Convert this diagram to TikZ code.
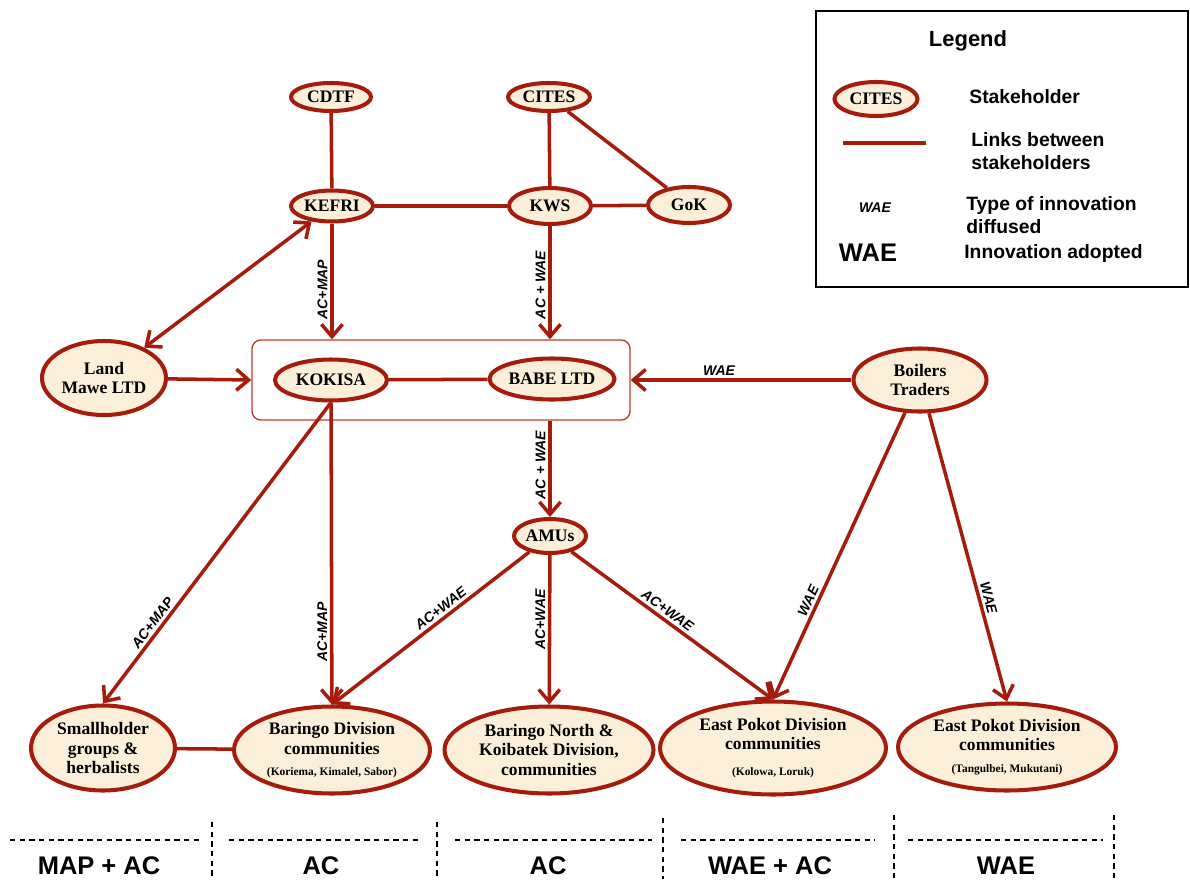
\documentclass[tikz,border=0pt]{standalone}
\usepackage{fontspec}
\setmainfont{Liberation Serif}
\setsansfont{Liberation Sans}
\usetikzlibrary{shapes.geometric,arrows.meta}

\definecolor{linkred}{RGB}{166,28,12}
\definecolor{framered}{RGB}{190,60,45}
\definecolor{actorfill}{RGB}{252,239,218}

\tikzset{
  actor/.style={ellipse, draw=linkred, fill=actorfill, line width=2.3pt, inner sep=0pt,
    align=center, font=\bfseries\fontsize{10}{11}\selectfont},
  dims/.style 2 args={minimum width=#1*0.02cm, minimum height=#2*0.02cm},
  link/.style={draw=linkred, line width=2pt},
  flow/.style={link, -{Straight Barb[length=7pt,width=12pt]}},
  flowboth/.style={link, {Straight Barb[length=7pt,width=12pt]}-{Straight Barb[length=7pt,width=12pt]}},
  innov/.style={font=\sffamily\bfseries\itshape\fontsize{8}{9}\selectfont, inner sep=1.5pt},
  legtext/.style={font=\sffamily\bfseries\fontsize{11}{13.5}\selectfont, align=left, anchor=west, inner sep=0pt},
  bigsans/.style={font=\sffamily\bfseries\fontsize{14.5}{16}\selectfont, inner sep=0pt},
  band/.style={line width=0.6pt, dash pattern=on 3pt off 2.5pt},
}
\newcommand{\subline}[1]{\\[1pt]{\fontsize{6.5}{8}\selectfont #1}}

\begin{document}
\begin{tikzpicture}[x=0.02cm, y=-0.02cm]
\useasboundingbox (0,0) rectangle (1190,879);

%top stakeholders
\node[actor, dims={80}{28}] (cdtf) at (331,97) {CDTF};
\node[actor, dims={82}{28}] (cites) at (549,97) {CITES};
\node[actor, dims={82}{31}] (kefri) at (332,206) {KEFRI};
\node[actor, dims={82}{36}] (kws) at (550,206) {KWS};
\node[actor, dims={82}{36}] (gok) at (689,205) {GoK};

%processors
\node[draw=framered, line width=0.8pt, rounded corners=5pt, dims={378}{80}] (frame) at (441,380) {};
\node[actor, dims={112}{41}] (kokisa) at (331,380) {KOKISA};
\node[actor, dims={125}{41}] (babe) at (552,379) {BABE LTD};
\node[actor, dims={124}{74}] (land) at (104,378) {Land\\Mawe LTD};
\node[actor, dims={133}{63}] (boilers) at (920,380) {Boilers\\Traders};
\node[actor, dims={72}{34}] (amus) at (550,536) {AMUs};

%communities
\node[actor, dims={144}{85}] (small) at (103,748) {Smallholder\\groups \&\\herbalists};
\node[actor, dims={196}{87}] (bdiv) at (332,750) {Baringo Division\\communities\subline{(Koriema, Kimalel, Sabor)}};
\node[actor, dims={209}{87}] (bnorth) at (549,750) {Baringo North \&\\Koibatek Division,\\communities};
\node[actor, dims={226}{93}] (kolowa) at (773,748) {East Pokot Division\\communities\\[4pt]{\fontsize{6.5}{8}\selectfont (Kolowa, Loruk)}};
\node[actor, dims={218}{87}] (tangul) at (1007,747) {East Pokot Division\\communities\subline{(Tangulbei, Mukutani)}};

%links
\draw[link] (cdtf) -- (kefri);
\draw[link] (cites) -- (kws);
\draw[link] (cites) -- (gok);
\draw[link] (kefri) -- (kws);
\draw[link] (kws) -- (gok);
\draw[link] (kokisa) -- (babe);
\draw[link] (small) -- (bdiv);

%innovation flows
\draw[flowboth] (land) -- (kefri);
\draw[flow] (kefri) -- (kefri |- frame.north) node[innov, pos=0.57, rotate=90, anchor=south] (lkefri) {AC+MAP};
\draw[flow] (kws) -- (kws |- frame.north) node[innov, pos=0.52, rotate=90, anchor=south] (lkws) {AC + WAE};
\draw[flow] (land) -- (frame.west);
\draw[flow] (boilers) -- (frame.east) node[innov, pos=0.6, above] (lboil) {WAE};
\draw[flow] (frame.south -| amus) -- (amus) node[innov, pos=0.46, rotate=90, anchor=south] (lframe) {AC + WAE};
\draw[flow] (kokisa.south) -- (small.north) node[innov, pos=0.75, sloped, above] (lsmall) {AC+MAP};
\draw[flow] (kokisa) -- (bdiv) node[innov, pos=0.76, rotate=90, anchor=south] (lbdiv) {AC+MAP};
\draw[flow] (amus) -- (bdiv.north) node[innov, pos=0.42, sloped, above] (lamus1) {AC+WAE};
\draw[flow] (amus) -- (bnorth) node[innov, pos=0.43, rotate=90, anchor=south] (lamus2) {AC+WAE};
\draw[flow] (amus) -- (kolowa.north) node[innov, pos=0.45, sloped, above] (lamus3) {AC+WAE};
\draw[flow] (boilers) -- (kolowa.north) node[innov, pos=0.67, sloped, above] (lboil1) {WAE};
\draw[flow] (boilers) -- (tangul.north) node[innov, pos=0.65, sloped, above] (lboil2) {WAE};

%legend
\node[draw, line width=1pt, dims={372}{276}] (legend) at (1002,149) {};
\node[font=\sffamily\bfseries\fontsize{12.5}{14}\selectfont] (legtitle) at (968,41) {Legend};
\node[actor, dims={83}{34}] (legactor) at (876,99) {CITES};
\node[legtext] (legstake) at (969,97) {Stakeholder};
\coordinate (legA) at (843,143);
\coordinate (legB) at (926,143);
\draw[link] (legA) -- (legB);
\node[legtext] (leglink) at (971,151) {Links between\\stakeholders};
\node[innov] (legwae) at (875,208) {WAE};
\node[legtext] (legtype) at (966,215) {Type of innovation\\diffused};
\node[bigsans] (legbig) at (868,253) {WAE};
\node[legtext] (legadopt) at (964,253) {Innovation adopted};

%adoption bands
\foreach \a/\b in {10/203, 229/422, 455/652, 681/875, 908/1103}
  \draw[band] (\a,840) -- (\b,840);
\foreach \x/\t in {212/822, 437/822, 663/818, 894/815, 1114/815}
  \draw[band] (\x,\t) -- (\x,879);
\foreach \x/\txt [count=\i] in {99/MAP + AC, 321/AC, 548/AC, 770/WAE + AC, 1006/WAE}
  \node[bigsans] (band\i) at (\x,866) {\txt};

\end{tikzpicture}
\end{document}
